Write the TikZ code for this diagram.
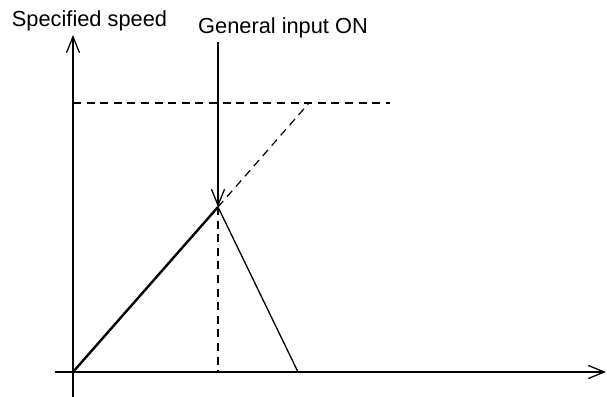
\documentclass[tikz,border=0pt]{standalone}
\usepackage{fontspec}
\setmainfont{Liberation Sans}
\usetikzlibrary{arrows.meta}

\begin{document}
\begin{tikzpicture}[x=0.5pt, y=-0.5pt,
  font=\fontsize{10.9}{13}\selectfont,
  axis/.style={line width=0.65pt, -{Straight Barb[length=8pt,width=6.5pt]}},
  ramp/.style={line width=1.2pt},
  fall/.style={line width=0.65pt},
  guide/.style={line width=0.6pt, dash pattern=on 4pt off 2.8pt},
  lbl/.style={inner sep=0pt, anchor=base}
]
\useasboundingbox (0,0) rectangle (607,397);

% Axes
\coordinate (o) at (73,372);
\coordinate (ybot) at (73,397);
\coordinate (ytop) at (73,35);
\coordinate (xleft) at (55,372);
\coordinate (xright) at (606,372);
\draw[axis] (ybot) -- (ytop);
\draw[axis] (xleft) -- (xright);

% Speed profile
\coordinate (peak) at (218,207);
\coordinate (stop) at (298,372);
\coordinate (foot) at (218,372);
\coordinate (reach) at (309,103);
\coordinate (lvl) at (73,103);
\coordinate (lvlend) at (390,103);
\draw[ramp] (o) -- (peak);
\draw[fall] (peak) -- (stop);
\draw[guide] (peak) -- (foot);
\draw[guide] (peak) -- (reach);
\draw[guide] (lvl) -- (lvlend);

% Labels
\node[lbl] (spd) at (89.5,26) {Specified speed};
\node[lbl] (gin) at (283,33) {General input ON};
\coordinate (trig) at (218,42);
\draw[axis] (trig) -- (peak);

\end{tikzpicture}
\end{document}
